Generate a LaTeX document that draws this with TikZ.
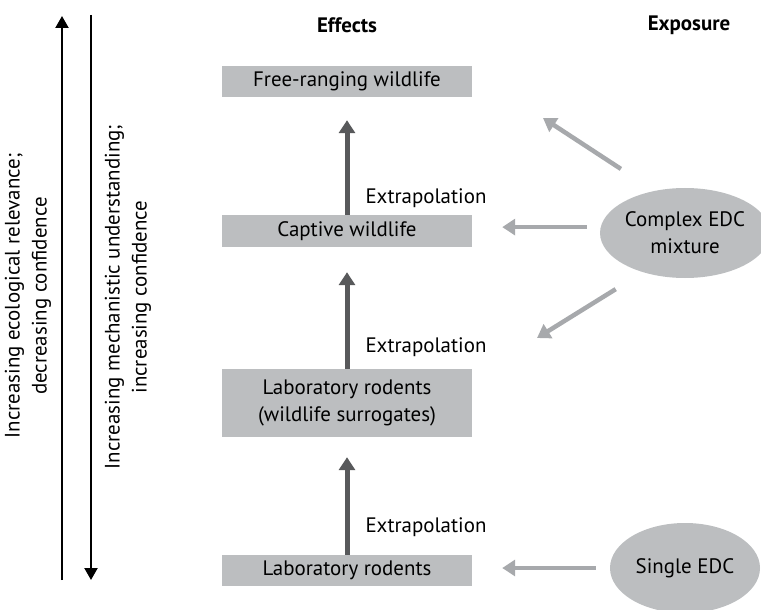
\documentclass[tikz,border=0pt]{standalone}
\usepackage{fontspec}
\setmainfont{PT Sans}
\usetikzlibrary{arrows.meta,calc,positioning,shapes.geometric}
\definecolor{boxgray}{RGB}{188,190,192}
\definecolor{feedgray}{RGB}{167,169,172}
\definecolor{upgray}{RGB}{88,89,91}

\begin{document}
\begin{tikzpicture}[x=1bp, y=-1bp, font=\fontsize{21}{27}\selectfont,
  box/.style={fill=boxgray, minimum width=250bp, inner sep=0pt, align=center},
  blob/.style={ellipse, fill=boxgray, minimum width=150bp, minimum height=90bp, inner sep=0pt, align=center},
  up/.style={draw=upgray, line width=5bp, -{Triangle[width=16bp,length=13bp]}},
  feed/.style={draw=feedgray, line width=4.5bp, -{Triangle[width=16bp,length=13bp]}},
  axis/.style={line width=2.2bp, -{Triangle[width=13bp,length=12bp]}}]
  \useasboundingbox (0,0) rectangle (761,610);

  % headings
  \node[font=\fontsize{21}{27}\selectfont\bfseries](Effects) at (347,25){Effects};
  \node[font=\fontsize{21}{27}\selectfont\bfseries](Exposure) at (689,25){Exposure};

  % effects column
  \node[box, minimum height=31bp](FR) at (347,81.5){Free-ranging wildlife};
  \node[box, minimum height=32bp](CW) at (347,231){Captive wildlife};
  \node[box, minimum height=68bp](LS) at (347,403){Laboratory rodents\\(wildlife surrogates)};
  \node[box, minimum height=31bp](LR) at (347,570.5){Laboratory rodents};

  % exposure column
  \node[blob](CM) at (685,233){Complex EDC\\mixture};
  \node[blob](SE) at (685,568){Single EDC};

  \draw[up, shorten >=23bp] (CW.north) -- (FR.south);
  \draw[up, shorten >=25bp] (LS.north) -- (CW.south);
  \draw[up, shorten >=20bp] (LR.north) -- (LS.south);

  \node[anchor=west](X1) at (362,198){Extrapolation};
  \node[anchor=west](X2) at (362,347){Extrapolation};
  \node[anchor=west](X3) at (362,527){Extrapolation};

  \coordinate (FRin) at (543,118);
  \coordinate (LSin) at (537,338);
  \draw[feed, shorten <=40bp] (CM.126) -- (FRin);
  \draw[feed, shorten <=14bp, shorten >=30bp] (CM.176) -- (CM.176 -| CW.east);
  \draw[feed, shorten <=32bp] (CM.223) -- (LSin);
  \draw[feed, shorten <=14bp, shorten >=30bp] (SE.west) -- (SE.west -| LR.east);

  % the two axes on the left
  \coordinate (RelBot) at (62,580);
  \coordinate (RelTop) at (62,16);
  \coordinate (MechTop) at (91,15);
  \coordinate (MechBot) at (91,580);
  \draw[axis] (RelBot) -- (RelTop);
  \draw[axis] (MechTop) -- (MechBot);
  \node[rotate=90, align=center](Rel) at (28,296){Increasing ecological relevance;\\decreasing confidence};
  \node[rotate=90, align=center](Mech) at (128,297){Increasing mechanistic understanding;\\increasing confidence};
\end{tikzpicture}
\end{document}
